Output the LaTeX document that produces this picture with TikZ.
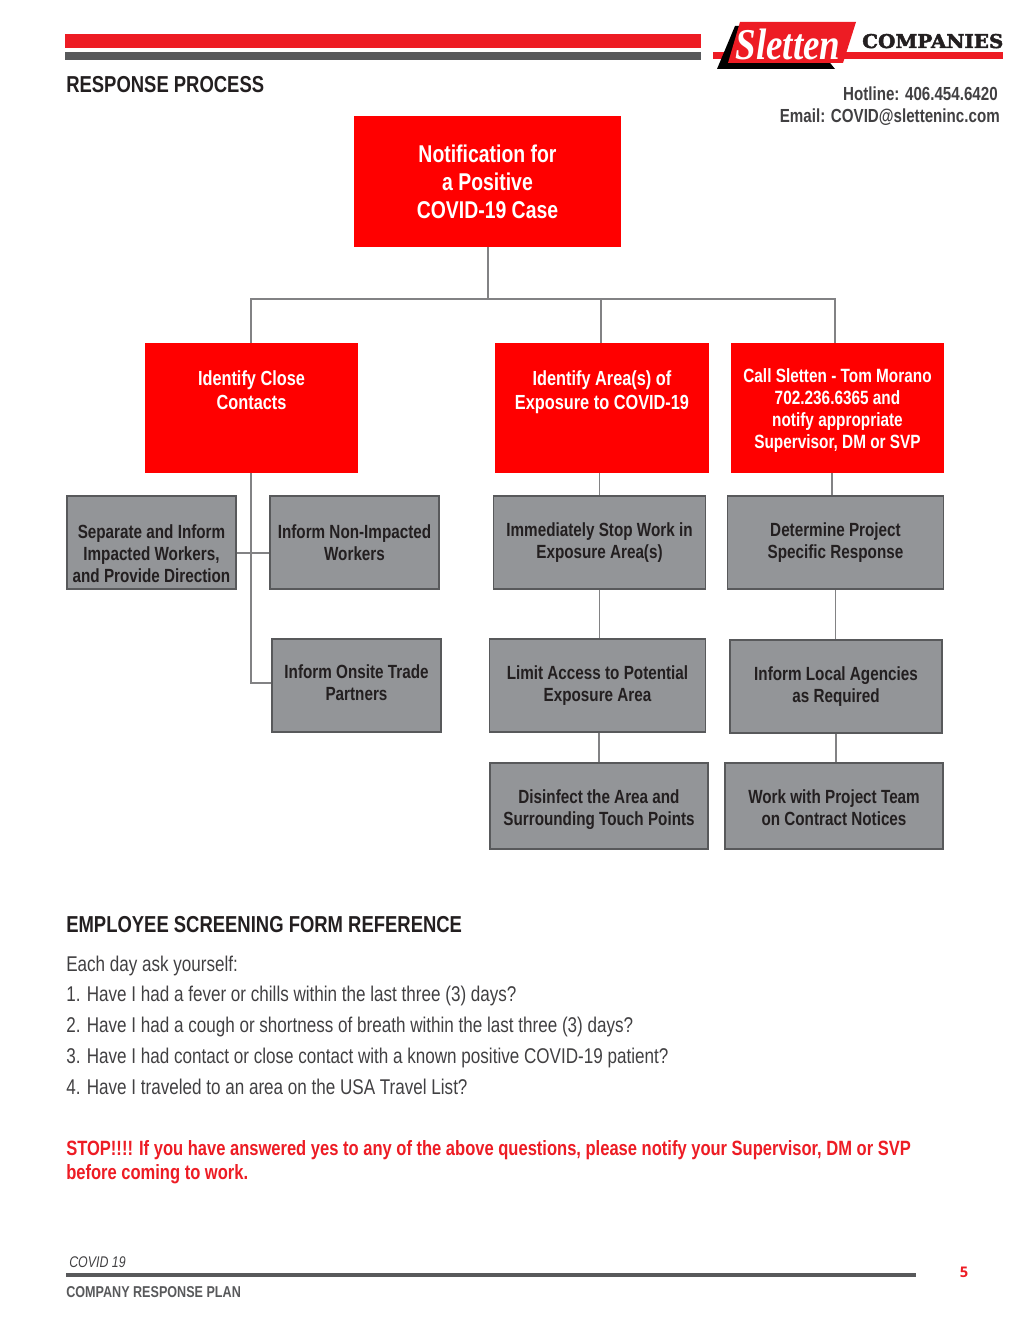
\documentclass[tikz,border=0pt]{standalone}
\usepackage{fontspec}
\setmainfont[FakeStretch=0.8]{Liberation Sans}
\newfontfamily\logofont[FakeStretch=0.84]{Liberation Serif}
\newfontfamily\wordfont[FakeBold=2.5,FakeStretch=1.05]{DejaVu Serif Bold}
\newfontfamily\pagefont{Open Sans}
\usepackage{tikz}
\usetikzlibrary{positioning}
\definecolor{sred}{RGB}{255,0,0}
\definecolor{bannerred}{RGB}{237,28,36}
\definecolor{boxgrey}{RGB}{147,149,152}
\definecolor{edgegrey}{RGB}{88,89,91}
\definecolor{inkgrey}{RGB}{35,31,32}
\definecolor{softgrey}{RGB}{65,64,66}
\tikzset{
	redbox/.style={fill=sred,text=white,inner sep=0pt,align=center,font=\bfseries\fontsize{15.3}{18}\selectfont},
	greybox/.style={fill=boxgrey,draw=edgegrey,line width=1.4pt,text=inkgrey,inner sep=0pt,align=center,font=\bfseries\fontsize{14.3}{16.5}\selectfont},
	conn/.style={draw=edgegrey!75,line width=0.85pt},
	heading/.style={anchor=base west,inner sep=0pt,text=inkgrey,font=\bfseries\fontsize{17.3}{20}\selectfont},
	bodyline/.style={anchor=base west,inner sep=0pt,text=softgrey,font=\fontsize{16}{18}\selectfont},
	stopline/.style={anchor=base west,inner sep=0pt,text=bannerred,font=\bfseries\fontsize{15.5}{18}\selectfont},
	contact/.style={anchor=base east,inner sep=0pt,text=softgrey,font=\bfseries\fontsize{14.2}{16}\selectfont}
}

\begin{document}
\begin{tikzpicture}[x=0.75pt,y=-0.75pt]
	\useasboundingbox (0,0) rectangle (1020,1320);
	
	\path
	(251,299) coordinate (busleft)
	(488,299) coordinate (busroot)
	(601,299) coordinate (busarea)
	(835,299) coordinate (busright)
	(832,480) coordinate (calldrop)
	(251,553) coordinate (crossing)
	(251,683) coordinate (onsiteturn)
	;
	
	% top banner and logo
	\fill[bannerred] (65,34) rectangle (701,48);
	\fill[edgegrey] (65,52) rectangle (701,60);
	\fill[bannerred] (713,52) rectangle (1003,59);
	\fill[black] (735,26) -- (800,26) -- (835,69) -- (717,69) -- cycle;
	\fill[bannerred] (740,22) -- (856,22) -- (843,63) -- (728,63) -- cycle;
	\node[inner sep=0pt,text=white,font=\logofont\bfseries\itshape\fontsize{33}{33}\selectfont] (logoname) at (788,44) {Sletten};
	\node[anchor=base west,inner sep=0pt,text=inkgrey,font=\wordfont\fontsize{14.2}{16}\selectfont] (logoword) at (862,48) {COMPANIES};
	
	\node[heading] (title) at (66,93) {RESPONSE PROCESS};
	\node[contact] (hotline) at (998,100) {Hotline: 406.454.6420};
	\node[contact] (email) at (1000,122.5) {Email: COVID@sletteninc.com};
	
	% chart
	\node[redbox,minimum width=200.25pt,minimum height=98.25pt,font=\bfseries\fontsize{18.2}{21}\selectfont] (root) at (487.5,181.5) {Notification for\\a Positive\\COVID-19 Case};
	
	\node[redbox,minimum width=159.75pt,minimum height=97.5pt] (close) at (251.5,408) {Identify Close\\Contacts\\[9pt]\mbox{}};
	\node[redbox,minimum width=160.5pt,minimum height=97.5pt] (area) at (602,408) {Identify Area(s) of\\Exposure to COVID-19\\[9pt]\mbox{}};
	\node[redbox,minimum width=159.75pt,minimum height=97.5pt,font=\bfseries\fontsize{14.4}{16.5}\selectfont] (call) at (837.5,408) {\mbox{}\\[-2pt]Call Sletten - Tom Morano\\702.236.6365 and\\notify appropriate\\Supervisor, DM or SVP};
	
	\node[greybox,minimum width=127pt,minimum height=70pt] (separate) at (151.5,542.5) {\mbox{}\\[10pt]Separate and Inform\\Impacted Workers,\\and Provide Direction};
	\node[greybox,minimum width=127pt,minimum height=70pt] (nonimpacted) at (354.5,542.5) {Inform Non-Impacted\\Workers};
	\node[greybox,minimum width=127pt,minimum height=70pt] (onsite) at (356.5,685.5) {Inform Onsite Trade\\Partners\\[-11.5pt]\mbox{}};
	
	\node[greybox,minimum width=159pt,minimum height=70pt] (stopwork) at (599.5,542.5) {Immediately Stop Work in\\Exposure Area(s)};
	\node[greybox,minimum width=162pt,minimum height=70pt] (limit) at (597.5,685.5) {Limit Access to Potential\\Exposure Area};
	\node[greybox,minimum width=164pt,minimum height=64pt] (disinfect) at (599,806) {\mbox{}\\[-0.5pt]Disinfect the Area and\\Surrounding Touch Points};
	
	\node[greybox,minimum width=162pt,minimum height=70pt] (determine) at (835.5,542.5) {Determine Project\\Specific Response};
	\node[greybox,minimum width=159pt,minimum height=70pt] (agencies) at (836,686.5) {Inform Local Agencies\\as Required};
	\node[greybox,minimum width=164pt,minimum height=64pt] (notices) at (834,806) {\mbox{}\\[-3.5pt]Work with Project Team\\on Contract Notices};
	
	\draw[conn] (root.south -| busroot) -- (busroot);
	\draw[conn] (close.north -| busleft) -- (busleft) -- (busright) -- (call.north -| busright);
	\draw[conn] (busarea) -- (area.north -| busarea);
	\draw[conn] (close.south -| busleft) -- (onsiteturn) -- (onsiteturn -| onsite.west);
	\draw[conn] (crossing -| separate.east) -- (crossing -| nonimpacted.west);
	\draw[conn] (area.south -| stopwork) -- (stopwork.north);
	\draw[conn] (stopwork.south) -- (stopwork.south |- limit.north);
	\draw[conn] (limit.south -| disinfect) -- (disinfect.north);
	\draw[conn] (call.south -| calldrop) -- (determine.north -| calldrop);
	\draw[conn] (determine.south) -- (determine.south |- agencies.north);
	\draw[conn] (agencies.south) -- (agencies.south |- notices.north);
	
	% screening text
	\node[heading] (screening) at (66,932) {EMPLOYEE SCREENING FORM REFERENCE};
	\node[bodyline] (ask) at (66,971) {Each day ask yourself:};
	\node[bodyline] (qone) at (66,1001) {1. Have I had a fever or chills within the last three (3) days?};
	\node[bodyline] (qtwo) at (66,1032) {2. Have I had a cough or shortness of breath within the last three (3) days?};
	\node[bodyline] (qthree) at (66,1063) {3. Have I had contact or close contact with a known positive COVID-19 patient?};
	\node[bodyline] (qfour) at (66,1094) {4. Have I traveled to an area on the USA Travel List?};
	\node[stopline] (stopa) at (66,1155) {STOP!!!! If you have answered yes to any of the above questions, please notify your Supervisor, DM or SVP};
	\node[stopline] (stopb) at (66,1179) {before coming to work.};
	
	% footer
	\node[anchor=base west,inner sep=0pt,text=softgrey,font=\itshape\fontsize{11.6}{13}\selectfont] (covid) at (69,1267) {COVID 19};
	\fill[edgegrey] (66,1273) rectangle (916,1276.5);
	\node[anchor=base west,inner sep=0pt,text=edgegrey,font=\bfseries\fontsize{11.8}{15}\selectfont] (plan) at (66,1297) {COMPANY RESPONSE PLAN};
	\node[inner sep=0pt,text=bannerred,font=\pagefont\bfseries\fontsize{11}{13}\selectfont] (pageno) at (964,1272) {5};
\end{tikzpicture}
\end{document}
